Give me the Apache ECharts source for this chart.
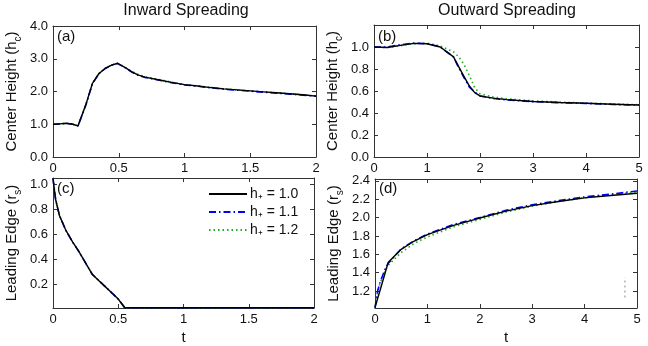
<!DOCTYPE html>
<html>
<head>
<meta charset="utf-8">
<title>Spreading</title>
<script src="https://cdn.jsdelivr.net/npm/echarts@6/dist/echarts.min.js"></script>
<style>
  html, body { margin: 0; padding: 0; background: #fff; }
  #chart { width: 648px; height: 346px; }
</style>
</head>
<body>
<div id="chart"></div>
<script>
// (a) inward spreading, center height
const tA = [0, 0.05, 0.1, 0.15, 0.19, 0.25, 0.3, 0.35, 0.4, 0.45, 0.49, 0.55, 0.6, 0.65, 0.7, 0.8, 0.9, 1.0, 1.1, 1.2, 1.3, 1.4, 1.5, 1.6, 1.7, 1.8, 1.9, 2.0]
const hA10 = [1.0, 1.01, 1.03, 1.0, 0.95, 1.6, 2.25, 2.55, 2.71, 2.81, 2.86, 2.73, 2.6, 2.5, 2.44, 2.36, 2.28, 2.21, 2.17, 2.12, 2.08, 2.05, 2.02, 1.99, 1.96, 1.93, 1.9, 1.86]
const hA11 = [1.0, 1.01, 1.03, 1.0, 0.95, 1.59, 2.24, 2.55, 2.71, 2.81, 2.86, 2.72, 2.59, 2.49, 2.43, 2.35, 2.27, 2.2, 2.16, 2.11, 2.07, 2.04, 2.01, 1.98, 1.95, 1.92, 1.89, 1.86]
const hA12 = [1.0, 1.01, 1.03, 1.0, 0.95, 1.6, 2.25, 2.56, 2.72, 2.82, 2.86, 2.74, 2.61, 2.51, 2.45, 2.37, 2.29, 2.21, 2.17, 2.12, 2.08, 2.05, 2.02, 1.99, 1.96, 1.93, 1.9, 1.86]

// (b) outward spreading, center height
const tB = [0, 0.25, 0.5, 0.75, 1.0, 1.25, 1.5, 1.6, 1.7, 1.8, 1.9, 2.0, 2.25, 2.5, 3.0, 3.5, 4.0, 4.5, 5.0]
const hB10 = [1.0, 0.995, 1.015, 1.033, 1.03, 1.0, 0.91, 0.82, 0.73, 0.645, 0.585, 0.555, 0.535, 0.522, 0.505, 0.495, 0.488, 0.48, 0.473]
const hB11 = [1.0, 1.0, 1.02, 1.035, 1.03, 1.0, 0.91, 0.81, 0.72, 0.635, 0.59, 0.555, 0.532, 0.52, 0.503, 0.494, 0.487, 0.478, 0.472]
const hB12 = [1.0, 0.995, 1.012, 1.03, 1.035, 1.01, 0.955, 0.91, 0.84, 0.74, 0.63, 0.575, 0.545, 0.53, 0.51, 0.5, 0.49, 0.482, 0.475]

// (c) inward spreading, leading edge
const tC = [0, 0.02, 0.05, 0.1, 0.15, 0.2, 0.25, 0.3, 0.35, 0.4, 0.45, 0.5, 0.55, 0.75, 1.0, 1.25, 1.5, 1.75, 2.0]
const rC10 = [1.05, 0.88, 0.75, 0.63, 0.54, 0.46, 0.37, 0.28, 0.23, 0.18, 0.13, 0.08, 0.01, 0.01, 0.01, 0.01, 0.01, 0.01, 0.01]
const rC11 = [1.05, 0.88, 0.75, 0.63, 0.54, 0.46, 0.37, 0.28, 0.23, 0.18, 0.13, 0.08, 0.01, 0.01, 0.01, 0.01, 0.01, 0.01, 0.01]
const rC12 = [1.05, 0.89, 0.75, 0.63, 0.54, 0.46, 0.37, 0.28, 0.23, 0.18, 0.13, 0.08, 0.01, 0.01, 0.01, 0.01, 0.01, 0.01, 0.01]

// (d) outward spreading, leading edge
const tD = [0, 0.05, 0.1, 0.2, 0.25, 0.5, 0.75, 1.0, 1.5, 2.0, 2.5, 3.0, 3.5, 4.0, 4.5, 5.0]
const rD10 = [1.02, 1.12, 1.215, 1.41, 1.51, 1.655, 1.745, 1.815, 1.915, 1.995, 2.07, 2.13, 2.175, 2.215, 2.24, 2.265]
const rD11 = [1.02, 1.2, 1.3, 1.45, 1.5, 1.66, 1.75, 1.82, 1.925, 2.0, 2.08, 2.14, 2.185, 2.225, 2.255, 2.29]
const rD12 = [1.02, 1.2, 1.29, 1.43, 1.48, 1.62, 1.72, 1.79, 1.9, 1.98, 2.06, 2.125, 2.175, 2.215, 2.25, 2.28]
// small stray dashed mark near t = 4.8
const strayT = [4.77, 4.77]
const strayR = [1.13, 1.35]

const legendNames = ['h\u208A = 1.0', 'h\u208A = 1.1', 'h\u208A = 1.2']
const yTicksC = [0.2, 0.4, 0.6, 0.8, 1.0]
const yTicksD = [1.2, 1.4, 1.6, 1.8, 2.0, 2.2, 2.4]

const FONT = 'Liberation Sans, Arial, sans-serif'
const AX = '#333'

function zip(t, v) {
  return t.map((x, i) => [x, v[i]])
}

function xAxis(grid, max, interval, pos, name) {
  return {
    type: 'value', gridIndex: grid, min: 0, max: max, interval: interval, position: pos,
    axisLine: { show: true, onZero: false, lineStyle: { color: AX } },
    axisTick: { show: true, inside: true, length: 4, lineStyle: { color: AX } },
    axisLabel: {
      show: pos === 'bottom', color: '#111', fontSize: 13, fontFamily: FONT, margin: 5,
      formatter: v => String(+v.toFixed(2))
    },
    splitLine: { show: false },
    name: pos === 'bottom' ? name : '', nameLocation: 'middle', nameGap: 22,
    nameTextStyle: { color: '#111', fontSize: 15, fontFamily: FONT }
  }
}

function yAxis(grid, min, max, interval, pos, name, ticks, hideAbove) {
  const ax = {
    type: 'value', gridIndex: grid, min: min, max: max, position: pos,
    axisLine: { show: true, onZero: false, lineStyle: { color: AX } },
    axisTick: { show: true, inside: true, length: 4, lineStyle: { color: AX } },
    axisLabel: {
      show: pos === 'left', color: '#111', fontSize: 13, fontFamily: FONT, margin: 5,
      formatter: v => (hideAbove !== undefined && v > hideAbove) ? '' : v.toFixed(1)
    },
    splitLine: { show: false },
    name: pos === 'left' ? name : '', nameLocation: 'middle', nameRotate: 90, nameGap: 30,
    nameTextStyle: {
      color: '#111', fontFamily: FONT,
      rich: {
        a: { fontSize: 15, fontFamily: FONT, color: '#111', lineHeight: 22 },
        s: { fontSize: 10, fontFamily: FONT, color: '#111', lineHeight: 10, verticalAlign: 'bottom' }
      }
    }
  }
  if (ticks) {
    ax.axisLabel.customValues = ticks
    ax.axisTick.customValues = ticks
  } else {
    ax.interval = interval
  }
  return ax
}

function lines(grid, t, a, b, c) {
  const base = { type: 'line', xAxisIndex: grid * 2, yAxisIndex: grid * 2, symbol: 'none', silent: true, animation: false }
  return [
    Object.assign({}, base, { name: legendNames[2], data: zip(t, c), z: 2, lineStyle: { color: '#22aa22', width: 1.6, type: [1.5, 3] }, itemStyle: { color: '#22aa22' } }),
    Object.assign({}, base, { name: legendNames[1], data: zip(t, b), z: 3, lineStyle: { color: '#0000ff', width: 1.6, type: [7, 3, 1.5, 3] }, itemStyle: { color: '#0000ff' } }),
    Object.assign({}, base, { name: legendNames[0], data: zip(t, a), z: 4, lineStyle: { color: '#000', width: 1.4, type: 'solid' }, itemStyle: { color: '#000' } })
  ]
}

const chart = echarts.init(document.getElementById('chart'))

const grids = [
  { left: 53, top: 26, width: 263, height: 131 },
  { left: 374, top: 25, width: 265, height: 132 },
  { left: 53, top: 178, width: 261, height: 131 },
  { left: 375, top: 179, width: 262, height: 130 }
]

const panelLabel = (text, left, top) => ({
  text: text, left: left, top: top, padding: 0,
  textStyle: { fontSize: 15, fontWeight: 'normal', color: '#111', fontFamily: FONT }
})

chart.setOption({
  backgroundColor: '#fff',
  animation: false,
  title: [
    { text: 'Inward Spreading', left: 186, top: 3, textAlign: 'center', padding: 0,
      textStyle: { fontSize: 16, fontWeight: 'normal', color: '#111', fontFamily: FONT } },
    { text: 'Outward Spreading', left: 507, top: 3, textAlign: 'center', padding: 0,
      textStyle: { fontSize: 16, fontWeight: 'normal', color: '#111', fontFamily: FONT } },
    panelLabel('(a)', 57, 29),
    panelLabel('(b)', 378, 29),
    panelLabel('(c)', 57, 181),
    panelLabel('(d)', 379, 181)
  ],
  legend: {
    data: legendNames,
    orient: 'vertical', left: 208, top: 187,
    itemWidth: 38, itemHeight: 12, itemGap: 4, padding: 0,
    selectedMode: false,
    itemStyle: { opacity: 0 },
    textStyle: { fontSize: 14, color: '#111', fontFamily: FONT, padding: [0, 0, 0, -2] }
  },
  grid: grids,
  xAxis: [
    xAxis(0, 2, 0.5, 'bottom', ''), xAxis(0, 2, 0.5, 'top', ''),
    xAxis(1, 5, 1, 'bottom', ''), xAxis(1, 5, 1, 'top', ''),
    xAxis(2, 2, 0.5, 'bottom', 't'), xAxis(2, 2, 0.5, 'top', ''),
    xAxis(3, 5, 1, 'bottom', 't'), xAxis(3, 5, 1, 'top', '')
  ],
  yAxis: [
    yAxis(0, 0, 4, 1, 'left', '{a|Center Height (h}{s|c}{a|)}'), yAxis(0, 0, 4, 1, 'right', ''),
    yAxis(1, 0, 1.2, 0.2, 'left', '{a|Center Height (h}{s|c}{a|)}', null, 1.1), yAxis(1, 0, 1.2, 0.2, 'right', ''),
    yAxis(2, 0.008, 1.054, null, 'left', '{a|Leading Edge (r}{s|s}{a|)}', yTicksC), yAxis(2, 0.008, 1.054, null, 'right', '', yTicksC),
    yAxis(3, 1.016, 2.42, null, 'left', '{a|Leading Edge (r}{s|s}{a|)}', yTicksD), yAxis(3, 1.016, 2.42, null, 'right', '', yTicksD)
  ],
  series: [].concat(
    lines(0, tA, hA10, hA11, hA12),
    lines(1, tB, hB10, hB11, hB12),
    lines(2, tC, rC10, rC11, rC12),
    lines(3, tD, rD10, rD11, rD12),
    [{
      type: 'line', xAxisIndex: 6, yAxisIndex: 6, symbol: 'none', silent: true,
      data: zip(strayT, strayR), lineStyle: { color: '#888', width: 1, type: [2, 3] }
    }]
  )
})
</script>
</body>
</html>
